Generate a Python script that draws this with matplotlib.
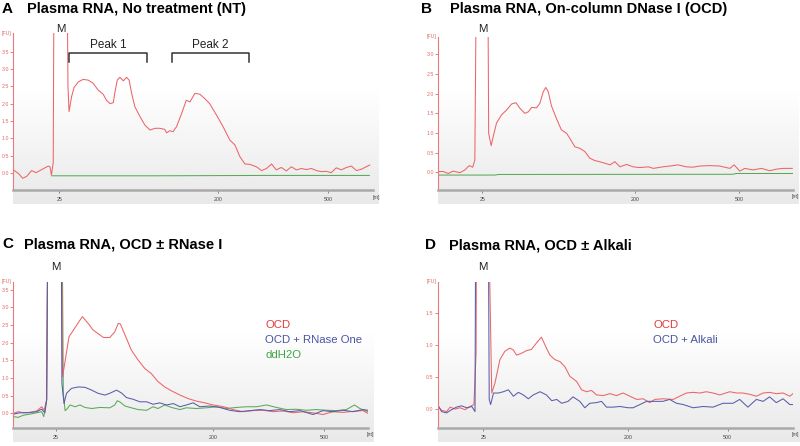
import numpy as np
import matplotlib
matplotlib.use('Agg')
import matplotlib.pyplot as plt
from matplotlib.colors import LinearSegmentedColormap

plt.rcParams['font.family'] = ['Liberation Sans', 'DejaVu Sans']

# ---------------- data (migration position 0-100, fluorescence FU) ----------------
size_tick_labels = ['25', '200', '500']

# Panel A : No treatment
A_pos = [0.0, 1.4, 2.6, 3.7, 5.1, 6.3, 7.9, 9.7, 10.2, 10.6, 11.1, 11.4, 14.8, 15.2, 15.5,
         16.2, 16.9, 18.1, 19.4, 20.8, 22.2, 23.6, 25.0, 25.9, 26.9, 27.8, 28.2, 28.9, 29.6,
         30.6, 31.5, 32.2, 32.9, 33.8, 35.2, 36.6, 38.0, 39.4, 40.7, 42.1, 42.6, 43.5, 44.4,
         45.4, 46.8, 48.1, 49.1, 50.5, 51.9, 53.2, 54.6, 56.5, 58.3, 60.2, 61.6, 63.0, 64.4,
         65.7, 67.6, 69.0, 70.4, 71.8, 73.1, 74.5, 75.9, 77.3, 78.7, 80.1, 81.5, 82.9, 84.3,
         85.6, 87.0, 88.4, 89.8, 91.2, 92.6, 94.0, 95.4, 96.8, 98.1, 99.1]
A_nt = [0.09, -0.01, -0.15, -0.10, 0.07, 0.01, 0.10, 0.20, 0.18, -0.06, 0.30, 8.0, 8.0, 2.5, 1.77,
        2.20, 2.47, 2.63, 2.70, 2.68, 2.59, 2.39, 2.27, 2.10, 2.00, 2.03, 2.30, 2.68, 2.76,
        2.66, 2.76, 2.68, 2.30, 1.91, 1.63, 1.38, 1.24, 1.29, 1.29, 1.26, 1.16, 1.22, 1.19,
        1.34, 1.72, 2.10, 2.05, 2.30, 2.27, 2.15, 2.00, 1.67, 1.34, 0.95, 0.81, 0.47, 0.26,
        0.25, 0.18, 0.07, 0.13, 0.26, 0.09, 0.16, 0.06, 0.18, 0.09, 0.13, 0.10, 0.13, 0.07,
        0.04, 0.05, 0.01, 0.15, 0.09, 0.16, 0.20, 0.07, 0.11, 0.18, 0.23]
A_blank_pos = [10.7, 40.0, 70.0, 99.0]
A_blank = [-0.08, -0.08, -0.07, -0.07]
A_peak_ranges = [(15.6, 37.2), (44.1, 65.6)]
A_peak_names = ['Peak 1', 'Peak 2']

# Panel B : On-column DNase I
B_pos = [0.0, 1.4, 2.8, 4.2, 6.1, 7.5, 8.7, 9.7, 10.3, 11.0, 13.8, 14.2, 14.9, 15.7, 16.4,
         17.8, 19.2, 20.7, 21.9, 23.0, 24.4, 25.4, 26.3, 27.7, 28.6, 29.6, 30.3, 31.0, 31.9,
         33.3, 34.7, 36.2, 37.1, 38.5, 39.9, 41.3, 42.7, 44.1, 45.5, 47.0, 48.4, 49.8, 51.2,
         53.1, 54.9, 56.8, 59.2, 60.6, 63.4, 66.2, 67.6, 69.9, 71.8, 73.7, 76.5, 79.3, 82.2,
         83.4, 85.0, 86.4, 88.7, 91.1, 93.4, 95.3, 97.2, 99.8]
B_ocd = [0.02, 0.02, -0.03, 0.03, -0.01, 0.06, 0.17, 0.13, 0.31, 8.0, 8.0, 0.99, 0.68, 0.99, 1.25,
         1.46, 1.58, 1.74, 1.77, 1.63, 1.50, 1.54, 1.65, 1.64, 1.75, 2.05, 2.16, 2.05, 1.69,
         1.37, 1.08, 0.99, 0.86, 0.65, 0.61, 0.53, 0.36, 0.30, 0.27, 0.23, 0.19, 0.27, 0.14,
         0.20, 0.14, 0.12, 0.14, 0.10, 0.14, 0.17, 0.19, 0.14, 0.13, 0.16, 0.17, 0.16, 0.10,
         0.19, 0.03, 0.10, 0.06, 0.10, 0.04, 0.08, 0.10, 0.10]
B_blank_pos = [0.0, 16.0, 17.0, 83.0, 84.0, 100.0]
B_blank = [-0.07, -0.07, -0.055, -0.05, -0.03, -0.03]

# Panel C : OCD +/- RNase I
C_ocd_pos = [0.0, 1.4, 2.8, 4.7, 6.6, 8.0, 8.7, 9.4, 9.9, 13.4, 13.9, 15.7, 18.8, 19.5, 21.1,
             22.5, 23.9, 25.4, 27.2, 28.6, 29.6, 30.2, 31.5, 33.3, 35.2, 37.1, 38.9, 40.8,
             42.7, 44.6, 47.0, 49.3, 51.6, 54.0, 56.3, 58.2, 60.1, 61.9, 64.8, 67.6, 70.4,
             73.2, 76.1, 78.9, 81.7, 84.3, 87.3, 90.1, 92.9, 95.8, 98.6, 100.0]
C_ocd = [0.0, 0.05, 0.02, 0.03, 0.07, 0.19, 0.09, 0.38, 8.0, 8.0, 1.04, 2.17, 2.64, 2.74, 2.55,
         2.36, 2.26, 2.15, 2.15, 2.31, 2.55, 2.53, 2.22, 1.79, 1.51, 1.27, 1.13, 0.90,
         0.75, 0.64, 0.52, 0.42, 0.35, 0.30, 0.24, 0.21, 0.17, 0.11, 0.05, 0.08, 0.09,
         0.05, 0.07, 0.02, 0.05, 0.02, -0.03, 0.05, 0.03, 0.06, 0.08, 0.0]
C_rnase_pos = [0.0, 1.9, 4.2, 6.6, 8.0, 8.9, 9.4, 9.9, 13.4, 13.7, 14.3, 15.0, 16.4, 18.3, 20.2,
               22.1, 23.9, 25.8, 27.2, 29.1, 30.5, 31.9, 33.8, 35.7, 37.6, 39.4, 41.3, 43.2,
               45.1, 47.0, 48.8, 50.7, 52.6, 55.4, 58.2, 61.0, 63.8, 66.7, 69.5, 72.3, 75.1,
               77.9, 80.8, 84.5, 87.3, 90.1, 93.0, 95.8, 98.6, 100.0]
C_rnase = [-0.02, 0.02, 0.02, 0.05, 0.12, 0.02, 0.38, 8.0, 8.0, 0.85, 0.28, 0.57, 0.71, 0.75, 0.74,
           0.66, 0.57, 0.52, 0.57, 0.66, 0.58, 0.45, 0.40, 0.33, 0.33, 0.26, 0.30, 0.24,
           0.28, 0.19, 0.24, 0.30, 0.19, 0.21, 0.17, 0.09, 0.05, 0.08, 0.11, 0.08, 0.11,
           0.05, 0.08, -0.03, 0.08, 0.05, 0.09, 0.05, 0.11, 0.09]
C_water_pos = [0.0, 1.4, 2.8, 4.7, 6.6, 8.0, 8.6, 9.4, 9.9, 13.6, 14.1, 14.6, 15.0, 16.0, 17.4,
               18.8, 20.2, 22.1, 24.4, 27.2, 28.6, 29.3, 30.0, 31.5, 33.3, 35.2, 37.6, 39.4,
               40.8, 42.7, 44.6, 47.0, 48.8, 51.6, 54.5, 57.3, 60.1, 62.9, 65.7, 68.5, 71.4,
               74.2, 77.0, 79.8, 82.6, 85.4, 88.3, 91.1, 93.9, 96.2, 97.7, 100.0]
C_water = [-0.09, -0.11, -0.05, -0.02, 0.02, 0.05, -0.09, 0.38, 8.0, 8.0, 0.57, 0.08, 0.11, 0.24,
           0.19, 0.24, 0.17, 0.14, 0.17, 0.16, 0.24, 0.36, 0.33, 0.21, 0.16, 0.11, 0.09, 0.19,
           0.14, 0.24, 0.17, 0.11, 0.16, 0.14, 0.16, 0.19, 0.14, 0.17, 0.19, 0.19, 0.24,
           0.17, 0.11, 0.12, 0.09, 0.11, 0.09, 0.08, 0.11, 0.24, 0.14, 0.05]
C_names = ['OCD', 'OCD + RNase One', 'ddH2O']

# Panel D : OCD +/- Alkali
D_ocd_pos = [0.0, 1.1, 2.5, 3.5, 4.9, 6.3, 7.7, 9.1, 10.2, 10.8, 11.2, 14.0, 14.5, 15.2, 16.1,
             17.5, 18.9, 20.3, 21.3, 22.2, 23.6, 25.0, 26.4, 27.8, 29.2, 30.6, 31.6, 33.0,
             34.4, 35.8, 37.2, 39.1, 40.5, 41.9, 43.3, 44.7, 46.6, 48.5, 50.3, 52.2, 54.1,
             56.0, 57.8, 59.7, 61.1, 63.4, 66.3, 68.1, 70.0, 71.9, 73.8, 75.6, 77.5, 79.4,
             82.2, 84.1, 85.9, 87.8, 89.7, 91.6, 93.4, 95.3, 97.2, 99.1, 100.0]
D_ocd = [0.04, -0.02, -0.04, 0.03, 0.0, 0.02, -0.01, 0.04, 0.07, 0.87, 8.0, 8.0, 2.5, 0.25, 0.40,
         0.77, 0.90, 0.95, 0.92, 0.84, 0.87, 0.91, 0.93, 1.03, 1.12, 0.95, 0.84, 0.77,
         0.74, 0.66, 0.51, 0.43, 0.30, 0.27, 0.29, 0.22, 0.21, 0.24, 0.21, 0.25, 0.20,
         0.15, 0.16, 0.10, 0.15, 0.16, 0.15, 0.20, 0.25, 0.26, 0.25, 0.27, 0.25, 0.22,
         0.27, 0.25, 0.25, 0.23, 0.20, 0.25, 0.26, 0.24, 0.25, 0.20, 0.24]
D_alk_pos = [0.0, 1.1, 2.5, 3.9, 5.3, 6.7, 8.2, 9.6, 10.5, 11.0, 13.8, 14.5, 14.9, 15.7, 17.1,
             18.5, 19.9, 21.3, 22.7, 24.1, 25.5, 26.9, 28.8, 30.6, 32.1, 33.5, 34.9, 36.7,
             38.1, 40.0, 41.4, 42.8, 44.7, 46.1, 47.5, 49.4, 51.3, 53.6, 55.0, 56.9, 58.8,
             61.6, 63.4, 65.3, 67.2, 69.1, 71.9, 74.7, 77.5, 80.3, 83.1, 85.0, 87.3, 89.7,
             91.6, 93.4, 95.3, 97.2, 99.1, 100.0]
D_alk = [0.07, -0.04, -0.06, -0.01, 0.03, 0.05, 0.02, 0.04, -0.04, 8.0, 8.0, 0.15, 0.07, 0.25,
         0.25, 0.27, 0.30, 0.20, 0.26, 0.22, 0.16, 0.22, 0.27, 0.22, 0.13, 0.15, 0.09, 0.12,
         0.19, 0.12, 0.02, 0.09, 0.10, 0.12, 0.03, 0.03, 0.04, 0.02, 0.02, 0.07, 0.12,
         0.12, 0.12, 0.15, 0.09, 0.07, 0.02, 0.04, 0.03, 0.09, 0.09, 0.15, 0.03, 0.15,
         0.12, 0.19, 0.10, 0.16, 0.07, 0.07]
D_names = ['OCD', 'OCD + Alkali']

# ---------------- styling ----------------
RED, BLUE, GREEN = '#ec6468', '#5a5ca8', '#58aa58'
RED_T, BLUE_T, GREEN_T = '#e63a3a', '#4a55a2', '#3fa544'
W, H = 800, 446
fig = plt.figure(figsize=(8, 4.46), dpi=100)
fig.patch.set_facecolor('white')

def fx(px):
    return px / W

def fy(py):
    return 1 - py / H

grad_cmap = LinearSegmentedColormap.from_list('g', ['#ffffff', '#e9e9e9'])
grad = np.linspace(0, 1, 256).reshape(-1, 1)


def make_panel(l, r, t, b, ylim, yticks, xticks):
    # soft gray background gradient
    gt = t + (b - t) * 0.35
    gb = b + 14
    bg = fig.add_axes([fx(l), fy(gb), fx(r + 6 - l), (gb - gt) / H])
    bg.imshow(grad, aspect='auto', cmap=grad_cmap, extent=[0, 1, 0, 1])
    bg.axis('off')
    ax = fig.add_axes([fx(l), fy(b), fx(r - l), (b - t) / H])
    ax.set_facecolor('none')
    ax.set_xlim(0, 100)
    ax.set_ylim(*ylim)
    for s in ['top', 'right']:
        ax.spines[s].set_visible(False)
    ax.spines['left'].set_color('#ea7a7a')
    ax.spines['left'].set_linewidth(0.8)
    ax.spines['bottom'].set_color('#a9a9a9')
    ax.spines['bottom'].set_linewidth(1.8)
    ax.set_yticks(yticks)
    ax.set_yticklabels([f'{v:.1f}' for v in yticks])
    ax.set_xticks(xticks)
    ax.set_xticklabels(size_tick_labels)
    ax.tick_params(axis='y', colors='#e06a6a', labelsize=3.8, length=2, width=0.6, pad=1)
    ax.tick_params(axis='x', colors='#777777', labelcolor='#444444', labelsize=3.8,
                   length=2, width=0.6, pad=3)
    ax.text(-0.004, 1.0, '[FU]', transform=ax.transAxes, ha='right', va='center',
            fontsize=3.8, color='#e06a6a')
    ax.text(1.008, -0.045, '[nt]', transform=ax.transAxes, ha='center', va='center',
            fontsize=3.8, color='#444444')
    return ax


def title(lx, tx, base, letter, text):
    fig.text(fx(lx), fy(base), letter, fontsize=11, fontweight='bold', va='baseline')
    fig.text(fx(tx), fy(base), text, fontsize=10.5, fontweight='bold', va='baseline')


lw = 0.75
# ---- A ----
axA = make_panel(13.3, 373, 33.3, 190, (-0.49, 4.03), [0, 0.5, 1.0, 1.5, 2.0, 2.5, 3.0, 3.5],
                 [12.8, 56.9, 87.5])
axA.plot(A_blank_pos, A_blank, color=GREEN, lw=lw)
axA.plot(A_pos, A_nt, color=RED, lw=lw)
for (x0, x1), name in zip(A_peak_ranges, A_peak_names):
    axA.plot([x0, x0, x1, x1], [3.21, 3.47, 3.47, 3.21], color='#333333', lw=1.1, clip_on=False)
    axA.text((x0 + x1) / 2, 3.70, name, ha='center', va='center', fontsize=8.5, color='#222222')
title(2, 26.7, 13.3, 'A', 'Plasma RNA, No treatment (NT)')
fig.text(fx(61), fy(29.5), 'M', ha='center', va='center', fontsize=8.2, color='#222222')

# ---- B ----
axB = make_panel(438.3, 793, 36.7, 190, (-0.45, 3.45), [0, 0.5, 1.0, 1.5, 2.0, 2.5, 3.0],
                 [12.4, 55.5, 84.8])
axB.plot(B_blank_pos, B_blank, color=GREEN, lw=lw)
axB.plot(B_pos, B_ocd, color=RED, lw=lw)
title(420.5, 450, 13.3, 'B', 'Plasma RNA, On-column DNase I (OCD)')
fig.text(fx(482.7), fy(29.5), 'M', ha='center', va='center', fontsize=8.2, color='#222222')

# ---- C ----
axC = make_panel(13.3, 368, 282, 428.3, (-0.42, 3.72), [0, 0.5, 1.0, 1.5, 2.0, 2.5, 3.0, 3.5],
                 [12.0, 56.2, 87.6])
axC.plot(C_water_pos, C_water, color=GREEN, lw=lw)
axC.plot(C_ocd_pos, C_ocd, color=RED, lw=lw)
axC.plot(C_rnase_pos, C_rnase, color=BLUE, lw=lw)
for i, (name, col) in enumerate(zip(C_names, [RED_T, BLUE_T, GREEN_T])):
    fig.text(fx(265), fy(325.5 + 14.8 * i), name, color=col, fontsize=8.2, va='center')
title(2, 24, 248.3, 'C', 'Plasma RNA, OCD \u00b1 RNase I')
fig.text(fx(55.7), fy(267), 'M', ha='center', va='center', fontsize=8.2, color='#222222')

# ---- D ----
axD = make_panel(437.7, 793, 282, 428.3, (-0.30, 1.98), [0, 0.5, 1.0, 1.5],
                 [12.8, 53.5, 81.6])
axD.plot(D_ocd_pos, D_ocd, color=RED, lw=lw)
axD.plot(D_alk_pos, D_alk, color=BLUE, lw=lw)
for i, (name, col) in enumerate(zip(D_names, [RED_T, BLUE_T])):
    fig.text(fx(653.3), fy(325.5 + 14.8 * i), name, color=col, fontsize=8.2, va='center')
title(425, 449, 249.3, 'D', 'Plasma RNA, OCD \u00b1 Alkali')
fig.text(fx(482.7), fy(267), 'M', ha='center', va='center', fontsize=8.2, color='#222222')

fig.savefig('out.png', dpi=100, facecolor='white')
